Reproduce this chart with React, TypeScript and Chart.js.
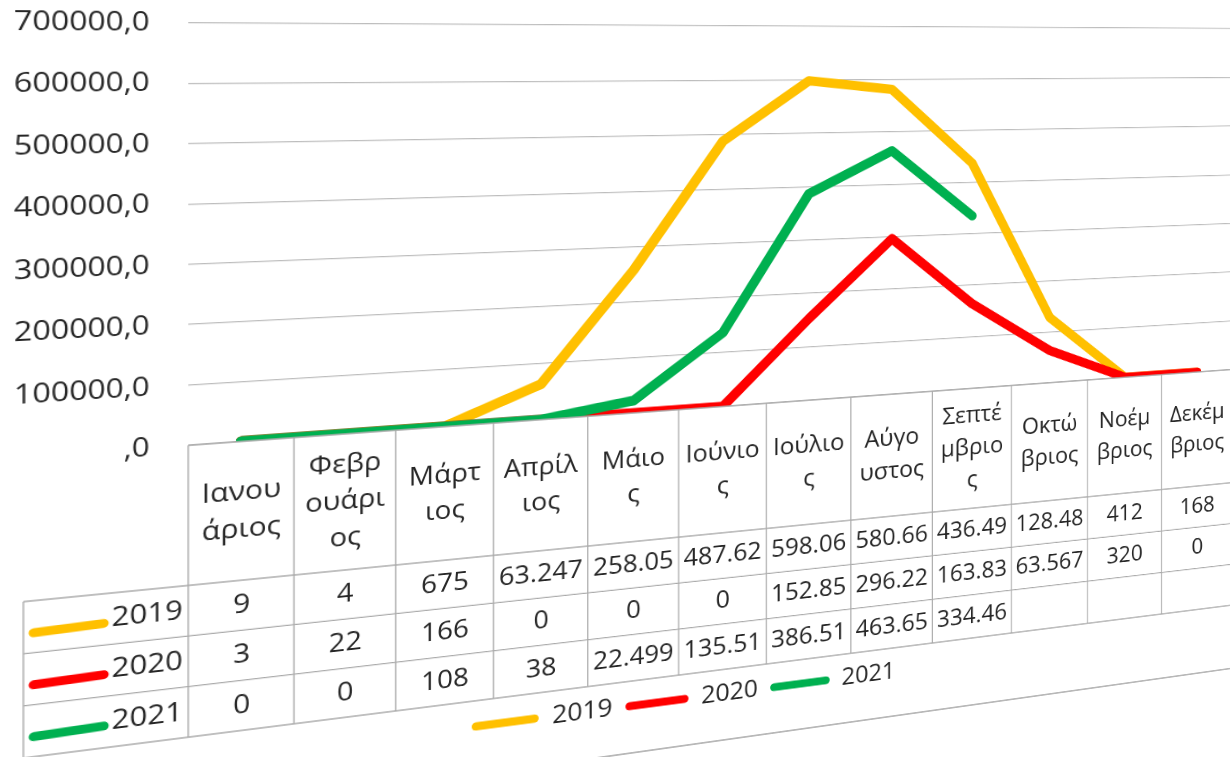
import React, { useEffect, useRef } from 'react';
import { Chart, registerables } from 'chart.js';

Chart.register(...registerables);

// ---- data ----
const categories: string[][] = [
  ['Ιανου', 'άριος'],
  ['Φεβρ', 'ουάρι', 'ος'],
  ['Μάρτ', 'ιος'],
  ['Απρίλ', 'ιος'],
  ['Μάιο', 'ς'],
  ['Ιούνιο', 'ς'],
  ['Ιούλιο', 'ς'],
  ['Αύγο', 'υστος'],
  ['Σεπτέ', 'μβριο', 'ς'],
  ['Οκτώ', 'βριος'],
  ['Νοέμ', 'βριος'],
  ['Δεκέμ', 'βριος'],
];
const seriesNames = ['2019', '2020', '2021'];
const values2019: (number | null)[] = [9, 4, 675, 63247, 258050, 487620, 598060, 580660, 436490, 128480, 412, 168];
const values2020: (number | null)[] = [3, 22, 166, 0, 0, 0, 152850, 296220, 163830, 63567, 320, 0];
const values2021: (number | null)[] = [0, 0, 108, 38, 22499, 135510, 386510, 463650, 334460, null, null, null];
const seriesColors = ['#FFC000', '#FF0000', '#00B050'];
const yTickLabels = [',0', '100000,0', '200000,0', '300000,0', '400000,0', '500000,0', '600000,0', '700000,0'];

const FONT = "'Open Sans', 'Noto Sans', 'DejaVu Sans', sans-serif";
const TEXT = '#262626';

function cellText(v: number | null): string {
  if (v === null || v === undefined) return '';
  return String(v).replace(/\B(?=(\d{3})+(?!\d))/g, '.').slice(0, 6);
}

export default function App() {
  const ref = useRef<HTMLCanvasElement>(null);

  useEffect(() => {
    const canvas = ref.current;
    if (!canvas) return;
    const allSeries = [values2019, values2020, values2021];

    const tablePlugin = {
      id: 'dataTable',
      afterDraw(chart: any) {
        const ctx = chart.ctx as CanvasRenderingContext2D;
        const xs = chart.scales.x;
        const area = chart.chartArea;
        const n = categories.length;
        const half = (xs.getPixelForValue(1) - xs.getPixelForValue(0)) / 2;
        const left = area.left;
        const right = xs.getPixelForValue(n - 1) + half;
        const top = area.bottom;
        const bottom = xs.bottom;
        const headerH = 145;
        const rowH = (bottom - top - headerH) / 3;
        const labelLeft = 20;
        ctx.save();
        // grid
        ctx.strokeStyle = '#aaaaaa';
        ctx.lineWidth = 1.3;
        ctx.beginPath();
        ctx.moveTo(left, top);
        ctx.lineTo(right, top);
        for (let r = 0; r <= 3; r++) {
          const y = top + headerH + r * rowH;
          ctx.moveTo(labelLeft, y);
          ctx.lineTo(right, y);
        }
        for (let i = 0; i <= n; i++) {
          const x = i < n ? xs.getPixelForValue(i) - half : right;
          ctx.moveTo(x, top);
          ctx.lineTo(x, bottom);
        }
        ctx.moveTo(labelLeft, top + headerH);
        ctx.lineTo(labelLeft, bottom);
        ctx.stroke();

        // header text
        ctx.fillStyle = TEXT;
        ctx.font = `28px ${FONT}`;
        ctx.textAlign = 'center';
        ctx.textBaseline = 'middle';
        const lh = 39;
        categories.forEach((lines, i) => {
          const cx = xs.getPixelForValue(i);
          const cy = top + headerH / 2;
          const y0 = cy - ((lines.length - 1) * lh) / 2;
          lines.forEach((t, k) => ctx.fillText(t, cx, y0 + k * lh));
        });

        // rows
        allSeries.forEach((vals, r) => {
          const cy = top + headerH + r * rowH + rowH / 2;
          // key
          ctx.strokeStyle = seriesColors[r];
          ctx.lineWidth = 9;
          ctx.lineCap = 'round';
          ctx.beginPath();
          ctx.moveTo(labelLeft + 9, cy + 6);
          ctx.lineTo(labelLeft + 70, cy + 4);
          ctx.stroke();
          ctx.textAlign = 'left';
          ctx.fillStyle = TEXT;
          ctx.fillText(seriesNames[r], labelLeft + 77, cy);
          ctx.textAlign = 'center';
          vals.forEach((v, i) => {
            ctx.fillText(cellText(v), xs.getPixelForValue(i), cy);
          });
        });
        ctx.restore();
      },
    };

    const chart = new Chart(canvas, {
      type: 'line',
      data: {
        labels: categories,
        datasets: allSeries.map((vals, i) => ({
          label: seriesNames[i],
          data: vals,
          borderColor: seriesColors[i],
          backgroundColor: seriesColors[i],
          borderWidth: 11,
          borderCapStyle: 'round',
          borderJoinStyle: 'round',
          pointRadius: 0,
          tension: 0,
          spanGaps: false,
          order: 3 - i,
        })) as any,
      },
      options: {
        responsive: false,
        animation: false,
        layout: { padding: { left: 0, right: 13, top: 22, bottom: 32 } },
        plugins: {
          tooltip: { enabled: false },
          legend: {
            position: 'bottom',
            labels: {
              font: { family: FONT, size: 28 },
              color: TEXT,
              boxWidth: 69,
              boxHeight: 9,
              padding: 14,
              useBorderRadius: true,
              borderRadius: 4.5,
              generateLabels: (c: any) =>
                c.data.datasets.map((ds: any, i: number) => ({
                  text: ds.label,
                  fillStyle: ds.borderColor,
                  strokeStyle: ds.borderColor,
                  lineWidth: 0,
                  hidden: false,
                  datasetIndex: i,
                  borderRadius: 4.5,
                  fontColor: TEXT,
                })),
            },
          },
        },
        scales: {
          x: {
            type: 'category',
            offset: true,
            grid: { display: false },
            border: { display: false },
            ticks: { display: false },
            afterFit: (s: any) => {
              s.height = 302;
            },
          },
          y: {
            min: 0,
            max: 700000,
            ticks: {
              stepSize: 100000,
              padding: 0,
              color: TEXT,
              font: { family: FONT, size: 28 },
              callback: (v: any) => yTickLabels[Math.round(Number(v) / 100000)],
            },
            grid: {
              color: '#bdbdbd',
              lineWidth: 1.3,
              drawTicks: true,
              tickLength: 35,
              tickColor: 'rgba(0,0,0,0)',
            },
            border: { display: false },
            afterFit: (s: any) => {
              s.width = 166;
            },
          },
        },
      } as any,
      plugins: [tablePlugin],
    });
    return () => chart.destroy();
  }, []);

  return (
    <div
      style={{
        position: 'fixed',
        left: 0,
        top: 0,
        width: 1230,
        height: 757,
        overflow: 'hidden',
        background: '#ffffff',
      }}
    >
      <div
        style={{
          position: 'absolute',
          left: 0,
          top: 0,
          width: 1360,
          height: 841,
          transformOrigin: '0px 52px',
          transform: 'perspective(1200px) rotateY(12.09deg) scaleX(1.2)',
          borderBottom: '2px solid #b8b8b8',
        }}
      >
        <canvas
          ref={ref}
          width={1360}
          height={845}
          style={{ display: 'block', position: 'absolute', left: 0, top: 0 }}
        />
      </div>
    </div>
  );
}
